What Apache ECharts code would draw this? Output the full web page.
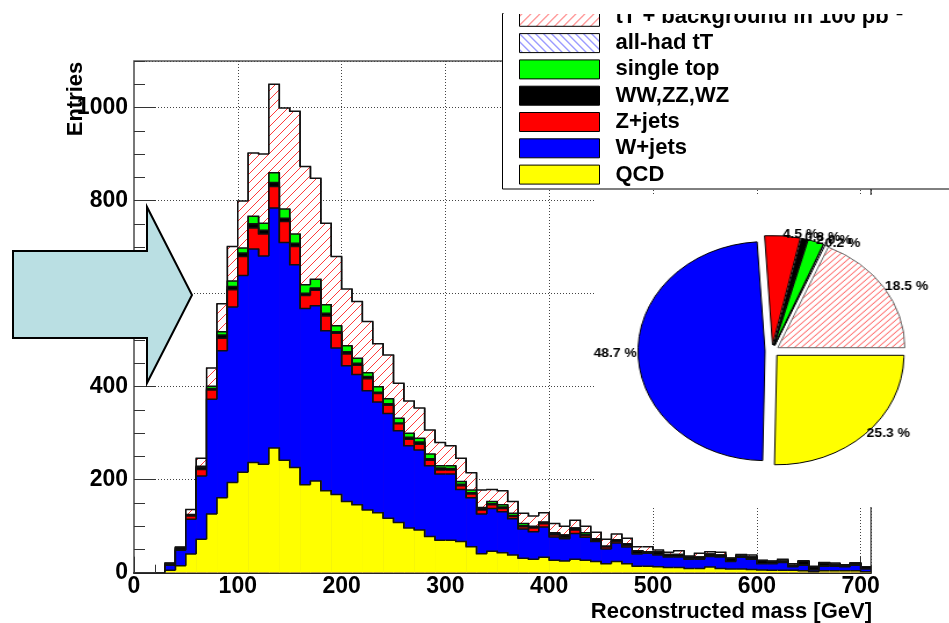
<!DOCTYPE html>
<html>
<head>
<meta charset="utf-8">
<script src="https://cdn.jsdelivr.net/npm/echarts@6/dist/echarts.min.js"></script>
<style>
  html, body { margin: 0; padding: 0; background: #fff; }
  #wrap { position: relative; width: 949px; height: 623px; overflow: hidden; }
  #main { position: absolute; left: 0; top: 0; width: 949px; height: 623px; }
  #pad { position: absolute; left: 594px; top: 195px; width: 355px; height: 312px; background: #fff; }
  #pie { position: absolute; left: 594px; top: 195px; width: 355px; height: 312px; transform-origin: 178px 156px; transform: scaleX(1.16); }
</style>
</head>
<body>
<div id="wrap">
  <div id="main"></div>
  <div id="pad"></div>
  <div id="pie"></div>
</div>
<script>
// ---- data (bin lower edges in GeV, bin width 10 GeV) ----
const binLow = [30,40,50,60,70,80,90,100,110,120,130,140,150,160,170,180,190,200,210,220,
  230,240,250,260,270,280,290,300,310,320,330,340,350,360,370,380,390,400,410,420,
  430,440,450,460,470,480,490,500,510,520,530,540,550,560,570,580,590,600,610,620,
  630,640,650,660,670,680,690,700];
const binWidth = 10;

const qcd = [5,15,40,72,126,161,194,216,237,233, 268,242,226,189,197,176,168,153,146,135,
  129,117,108,96,92,78,70,70,67,56, 41,46,43,38,31,29,33,27,25,29,
  27,24,19,24,19,14,14,13,11,11, 9,9,12,9,8,8,7,6,5,5, 5,4,2,4,4,4,4,2];
const wjets = [11,33,75,136,247,316,377,423,459,448, 516,468,436,379,377,344,315,292,280,256,
  238,225,197,177,172,152,142,142,112,105, 85,92,88,78,63,59,65,50,48,55,
  49,43,32,40,36,26,28,25,23,23, 20,20,23,25,16,25,22,13,14,17, 8,12,4,10,10,9,12,6];
const zjets = [1,1,7,14,20,27,37,41,45,47, 46,45,39,28,33,32,32,25,20,26,
  18,18,15,14,12,12,9,9,8,8, 9,8,7,5,5,8,7,4,3,8,
  4,1,4,3,3,1,1,1,1,1, 1,1,1,1,0,1,1,0,1,1, 0,1,1,1,1,0,1,0];
const diboson = [3,4,2,4,3,7,7,7,9,8, 9,7,7,5,5,6,3,5,4,5,
  3,3,2,4,5,3,4,3,3,3, 3,2,3,2,2,3,3,3,5,4,
  2,5,2,4,4,6,2,6,4,4, 4,4,4,3,7,2,4,7,4,2, 3,8,5,6,3,3,4,5];
const singleTop = [0,1,1,3,5,7,12,11,16,15, 21,20,20,18,19,18,13,13,11,8,
  12,11,10,9,8,10,5,6,6,6, 2,5,5,5,5,1,1,2,0,0,
  4,0,0,0,0,0,0,0,0,0, 0,0,0,0,0,0,0,0,0,0, 0,0,0,0,0,0,0,0];
const ttbar = [1,1,11,17,39,60,74,101,136,149, 190,217,264,254,217,175,149,122,122,110,
  92,94,75,69,65,52,50,43,50,37, 38,26,30,25,22,22,20,20,19,17,
  14,14,15,12,12,9,11,4,5,8, 2,8,5,6,0,3,4,0,1,4, 3,0,2,1,3,1,0,0];

// pie shares (%), counter-clockwise from 3 o'clock
const pieNames = ['tT + background in 100 pb\u207B\u00B9', 'all-had tT', 'single top', 'WW,ZZ,WZ', 'Z+jets', 'W+jets', 'QCD'];
const pieShare = [18.5, 0.2, 2.0, 0.8, 4.5, 48.7, 25.3];

const xTicks = { min: 0, max: 710, major: 100, minor: 20 };
const yTicks = { min: 0, max: 1100, major: 200, minor: 50 };

// ---- styles ----
function hatch(color, size, dir, lw) {
  const c = document.createElement('canvas');
  c.width = size; c.height = size;
  const g = c.getContext('2d');
  g.fillStyle = '#fff'; g.fillRect(0, 0, size, size);
  g.strokeStyle = color; g.lineWidth = lw || 1;
  g.beginPath();
  for (let k = -1; k <= 1; k++) {
    if (dir > 0) { g.moveTo(k * size, size); g.lineTo(k * size + size, 0); }
    else { g.moveTo(k * size, 0); g.lineTo(k * size + size, size); }
  }
  g.stroke();
  return { image: c, repeat: 'repeat' };
}
const redHatch = hatch('#ff3a3a', 9, 1, 1);
const redHatchPie = hatch('#ff4a4a', 6, 1, 1);
const blueHatch = hatch('#3a3aff', 8, -1, 1);

const colors = {
  tt: redHatch, allhad: blueHatch, st: '#00ff00', vv: '#000000', z: '#ff0000', w: '#0000ff', qcd: '#ffff00'
};

// cumulative stack levels (drawn largest first, like THStack)
const components = [qcd, wjets, zjets, diboson, singleTop, ttbar];
const cum = [];
let run = binLow.map(() => 0);
for (const comp of components) {
  run = run.map((v, i) => v + comp[i]);
  cum.push(run.slice());
}
const [cQcd, cW, cZ, cVV, cST, cTot] = cum;

function stepData(vals) {
  return vals.map((v, i) => [binLow[i], binLow[i] + binWidth, v,
    i > 0 ? vals[i - 1] : 0, i < vals.length - 1 ? vals[i + 1] : 0]);
}

function renderStep(params, api) {
  const x0 = api.value(0), x1 = api.value(1), v = api.value(2), pv = api.value(3), nv = api.value(4);
  const a = api.coord([x0, v]);
  const b = api.coord([x1, 0]);
  const yp = api.coord([x0, pv])[1];
  const yn = api.coord([x1, nv])[1];
  return {
    type: 'group',
    children: [
      { type: 'rect', shape: { x: a[0], y: a[1], width: b[0] - a[0] + 0.6, height: b[1] - a[1] },
        style: { fill: api.visual('color') } },
      { type: 'polyline', shape: { points: [[a[0], yp], [a[0], a[1]], [b[0], a[1]], [b[0], yn]] },
        style: { fill: null, stroke: '#111', lineWidth: 1.5 } }
    ]
  };
}

function stepSeries(name, vals, color) {
  return {
    type: 'custom', name: name, renderItem: renderStep, data: stepData(vals),
    encode: { x: [0, 1], y: 2 }, itemStyle: { color: color }, clip: true, silent: true
  };
}

const font = 'Liberation Sans, Arial, sans-serif';
const chart = echarts.init(document.getElementById('main'));
chart.setOption({
  animation: false,
  textStyle: { fontFamily: font, fontWeight: 'bold', color: '#000' },
  grid: { left: 134, top: 61, right: 78, bottom: 50.3, show: true, borderColor: '#000', borderWidth: 1, backgroundColor: 'transparent' },
  xAxis: [
    { type: 'value', min: xTicks.min, max: xTicks.max, interval: xTicks.major,
      axisLine: { show: true, lineStyle: { color: '#222', width: 2 } },
      axisTick: { show: true, inside: true, length: 16, lineStyle: { color: '#333' } },
      axisLabel: { fontSize: 23, fontWeight: 'bold', fontFamily: font, color: '#000', margin: 2, showMaxLabel: false,
        formatter: v => String(v) },
      splitLine: { show: true, lineStyle: { type: [1, 2], color: '#444', width: 1 } } },
    { type: 'value', min: xTicks.min, max: xTicks.max, interval: xTicks.minor, position: 'bottom',
      axisLine: { show: false }, axisLabel: { show: false }, splitLine: { show: false },
      axisTick: { show: true, inside: true, length: 8, lineStyle: { color: '#333' } } }
  ],
  yAxis: [
    { type: 'value', min: yTicks.min, max: yTicks.max, interval: yTicks.major,
      axisLine: { show: true, lineStyle: { color: '#777', width: 2 } },
      axisTick: { show: true, inside: true, length: 22, lineStyle: { color: '#333' } },
      axisLabel: { fontSize: 23, fontWeight: 'bold', fontFamily: font, color: '#000', margin: 6, showMaxLabel: false,
        formatter: v => String(v) },
      splitLine: { show: true, lineStyle: { type: [1, 2], color: '#444', width: 1 } } },
    { type: 'value', min: yTicks.min, max: yTicks.max, interval: yTicks.minor, position: 'left',
      axisLine: { show: false }, axisLabel: { show: false }, splitLine: { show: false },
      axisTick: { show: true, inside: true, length: 11, lineStyle: { color: '#333' } } }
  ],
  legend: {
    orient: 'vertical', left: 519, top: 5.8, padding: 0, itemWidth: 80, itemHeight: 19, itemGap: 4.3,
    icon: 'rect', selectedMode: false, z: 5,
    itemStyle: { borderColor: '#000', borderWidth: 1 },
    textStyle: { fontFamily: font, fontWeight: 'bold', fontSize: 22, color: '#000', padding: [0, 0, 0, 11] },
    data: pieNames
  },
  series: [
    stepSeries(pieNames[0], cTot, colors.tt),
    { type: 'custom', name: pieNames[1], renderItem: renderStep, data: [], itemStyle: { color: colors.allhad } },
    stepSeries(pieNames[2], cST, colors.st),
    stepSeries(pieNames[3], cVV, colors.vv),
    stepSeries(pieNames[4], cZ, colors.z),
    stepSeries(pieNames[5], cW, colors.w),
    stepSeries(pieNames[6], cQcd, colors.qcd)
  ],
  graphic: [
    { type: 'rect', z: 3, shape: { x: 502.5, y: 13.5, width: 470, height: 175.5 },
      style: { fill: '#fff', stroke: '#000', lineWidth: 1 } },
    { type: 'rect', z: 10, shape: { x: 503.5, y: -4, width: 460, height: 18 },
      style: { fill: '#fff' } },
    { type: 'polygon', z: 10,
      shape: { points: [[13, 251], [147, 251], [147, 207], [192, 295], [147, 383], [147, 338], [13, 338]] },
      style: { fill: '#badfe3', stroke: '#000', lineWidth: 2 } },
    { type: 'text', z: 10, x: 76, y: 99, rotation: Math.PI / 2,
      style: { text: 'Entries', font: 'bold 22px ' + font, fill: '#000', align: 'center', verticalAlign: 'middle' } },
    { type: 'text', z: 10, x: 872, y: 612,
      style: { text: 'Reconstructed mass [GeV]', font: 'bold 22px ' + font, fill: '#000', align: 'right', verticalAlign: 'middle' } }
  ]
});

const pieColors = [redHatchPie, blueHatch, colors.st, colors.vv, colors.z, colors.w, colors.qcd];
const pie = echarts.init(document.getElementById('pie'));
pie.setOption({
  animation: false,
  series: [{
    type: 'pie', center: [178, 156], radius: 109.5, startAngle: 0, clockwise: false,
    selectedMode: 'multiple', selectedOffset: 6, avoidLabelOverlap: false, silent: true,
    labelLayout: { hideOverlap: false },
    label: { show: true, position: 'outside', fontFamily: font, fontWeight: 'bold', fontSize: 12, color: '#000',
      distanceToLabelLine: 0, formatter: p => p.value.toFixed(1) + ' %' },
    labelLine: { show: false, length: 1, length2: 0 },
    itemStyle: { borderColor: '#000', borderWidth: 1 },
    data: pieNames.map((n, i) => ({ name: n, value: pieShare[i], selected: true,
      itemStyle: { color: pieColors[i], borderColor: i === 0 ? '#666' : '#000' } }))
  }]
});
</script>
</body>
</html>
